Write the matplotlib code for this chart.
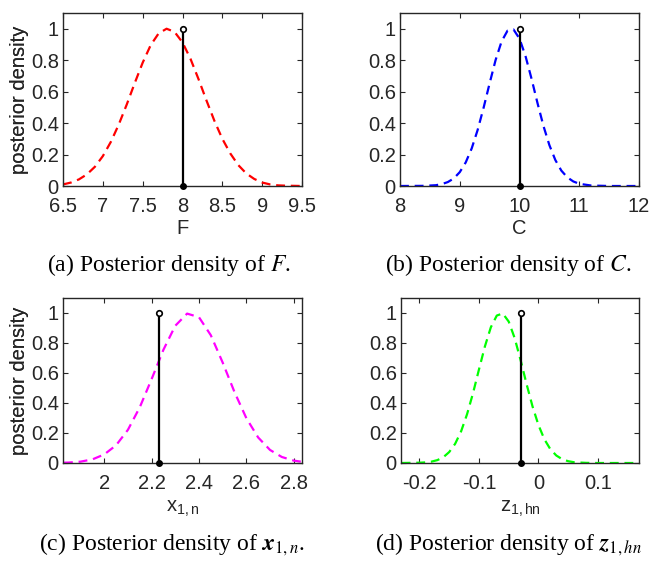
import matplotlib
matplotlib.use('Agg')
import matplotlib.pyplot as plt

plt.rcParams['font.family'] = ['Liberation Sans', 'DejaVu Sans']
plt.rcParams['mathtext.fontset'] = 'stix'

# values (density samples)
F_x = [6.5, 6.6, 6.7, 6.8, 6.9, 7.0, 7.1, 7.2, 7.3, 7.4, 7.5, 7.6, 7.7, 7.8, 7.9,
       8.0, 8.1, 8.2, 8.3, 8.4, 8.5, 8.6, 8.7, 8.8, 8.9, 9.0, 9.1, 9.2, 9.3, 9.4, 9.5]
F_y = [0.010, 0.022, 0.042, 0.074, 0.122, 0.190, 0.280, 0.391, 0.518, 0.654, 0.784,
       0.895, 0.970, 1.000, 0.980, 0.913, 0.809, 0.681, 0.545, 0.415, 0.300, 0.207,
       0.133, 0.080, 0.045, 0.022, 0.010, 0.004, 0.002, 0.001, 0.000]

C_x = [8.0, 8.4, 8.6, 8.7, 8.8, 8.9, 9.0, 9.1, 9.2, 9.3, 9.4, 9.5, 9.6, 9.7, 9.8,
       9.9, 10.0, 10.1, 10.2, 10.3, 10.4, 10.5, 10.6, 10.7, 10.8, 10.9, 11.0, 11.2,
       11.5, 12.0]
C_y = [0.000, 0.001, 0.005, 0.012, 0.025, 0.048, 0.088, 0.150, 0.239, 0.357, 0.499,
       0.653, 0.801, 0.919, 0.988, 0.995, 0.937, 0.827, 0.684, 0.529, 0.383, 0.260,
       0.165, 0.098, 0.055, 0.029, 0.014, 0.003, 0.000, 0.000]

X_x = [1.83, 1.85, 1.90, 1.95, 2.00, 2.05, 2.10, 2.15, 2.20, 2.25, 2.30, 2.35, 2.40,
       2.45, 2.50, 2.55, 2.60, 2.65, 2.70, 2.75, 2.80, 2.83]
X_y = [0.002, 0.003, 0.009, 0.024, 0.057, 0.118, 0.221, 0.371, 0.559, 0.755, 0.915,
       0.996, 0.972, 0.852, 0.670, 0.473, 0.299, 0.170, 0.087, 0.040, 0.016, 0.009]

Z_x = [-0.23, -0.20, -0.19, -0.18, -0.17, -0.16, -0.15, -0.14, -0.13, -0.12, -0.11,
       -0.10, -0.09, -0.08, -0.07, -0.06, -0.05, -0.04, -0.03, -0.02, -0.01, 0.00,
       0.01, 0.02, 0.03, 0.04, 0.05, 0.06, 0.08, 0.10, 0.17]
Z_y = [0.000, 0.002, 0.004, 0.009, 0.019, 0.038, 0.073, 0.128, 0.211, 0.325, 0.465,
       0.623, 0.777, 0.905, 0.983, 0.997, 0.943, 0.833, 0.686, 0.527, 0.378, 0.253,
       0.158, 0.092, 0.050, 0.025, 0.012, 0.005, 0.001, 0.000, 0.000]

true_vals = [8.0, 10.0, 2.23, -0.03]
xlims = [(6.5, 9.5), (8, 12), (1.826, 2.835), (-0.231, 0.169)]
xticks = [[6.5, 7, 7.5, 8, 8.5, 9, 9.5], [8, 9, 10, 11, 12],
          [2, 2.2, 2.4, 2.6, 2.8], [-0.2, -0.1, 0, 0.1]]
xticklabels = [['6.5', '7', '7.5', '8', '8.5', '9', '9.5'], ['8', '9', '10', '11', '12'],
               ['2', '2.2', '2.4', '2.6', '2.8'], ['-0.2', '-0.1', '0', '0.1']]
xlabels = ['F', 'C', r'$\mathregular{x_{1,n}}$', r'$\mathregular{z_{1,hn}}$']
colors = ['#ff0000', '#0000ff', '#ff00ff', '#00ff00']
captions = [r'(a) Posterior density of $F$.', r'(b) Posterior density of $C$.',
            r'(c) Posterior density of $\mathbfit{x}_{1,n}$.',
            r'(d) Posterior density of $\mathbfit{z}_{1,hn}$']
series = [(F_x, F_y), (C_x, C_y), (X_x, X_y), (Z_x, Z_y)]

W, H = 652, 563
fig = plt.figure(figsize=(W / 100, H / 100), dpi=100)

# axes boxes in pixels: left, top, right, bottom
boxes = [(63, 13, 302, 186), (400, 13, 639, 186), (63, 298, 302, 463), (401, 298, 639, 463)]
xlabel_top = [219, 219, 499, 499]
cap_pos = [(169, 265), (508, 265), (172, 545), (508, 545)]
ink = '#262626'
fs = 14.5

for i in range(4):
    l, t, r, b = boxes[i]
    ax = fig.add_axes([l / W, 1 - b / H, (r - l) / W, (b - t) / H])
    xs, ys = series[i]
    ax.plot(xs, ys, color=colors[i], lw=1.6, dashes=(4, 2.6))
    tv = true_vals[i]
    ax.plot([tv, tv], [0, 1], color='k', lw=1.6)
    ax.plot([tv], [1], 'o', ms=4, mfc='white', mec='k', mew=1.2)
    ax.plot([tv], [0], 'o', ms=4, mfc='k', mec='k', clip_on=False, zorder=5)
    ax.set_xlim(*xlims[i])
    ax.set_ylim(0, 1.1)
    ax.set_xticks(xticks[i])
    ax.set_xticklabels(xticklabels[i])
    ax.set_yticks([0, 0.2, 0.4, 0.6, 0.8, 1])
    ax.set_yticklabels(['0', '0.2', '0.4', '0.6', '0.8', '1'])
    ax.tick_params(direction='in', top=True, right=True, length=3.5, width=0.8,
                   labelsize=fs, colors=ink, pad=3)
    ax.tick_params(axis='x', pad=8)
    for s in ax.spines.values():
        s.set_color(ink)
        s.set_linewidth(1.0)
    ax.set_ylabel('posterior density', fontsize=fs, color=ink)
    ax.yaxis.set_label_coords((29 - l) / (r - l), 0.5)
    ax.set_xlabel(xlabels[i], fontsize=fs, color=ink)
    ax.xaxis.set_label_coords(0.5, -(xlabel_top[i] - b) / (b - t))
    cx, cy = cap_pos[i]
    fig.text(cx / W, 1 - cy / H, captions[i], ha='center', va='center',
             fontsize=17, family='Liberation Serif')

fig.savefig('out.png', dpi=100)
